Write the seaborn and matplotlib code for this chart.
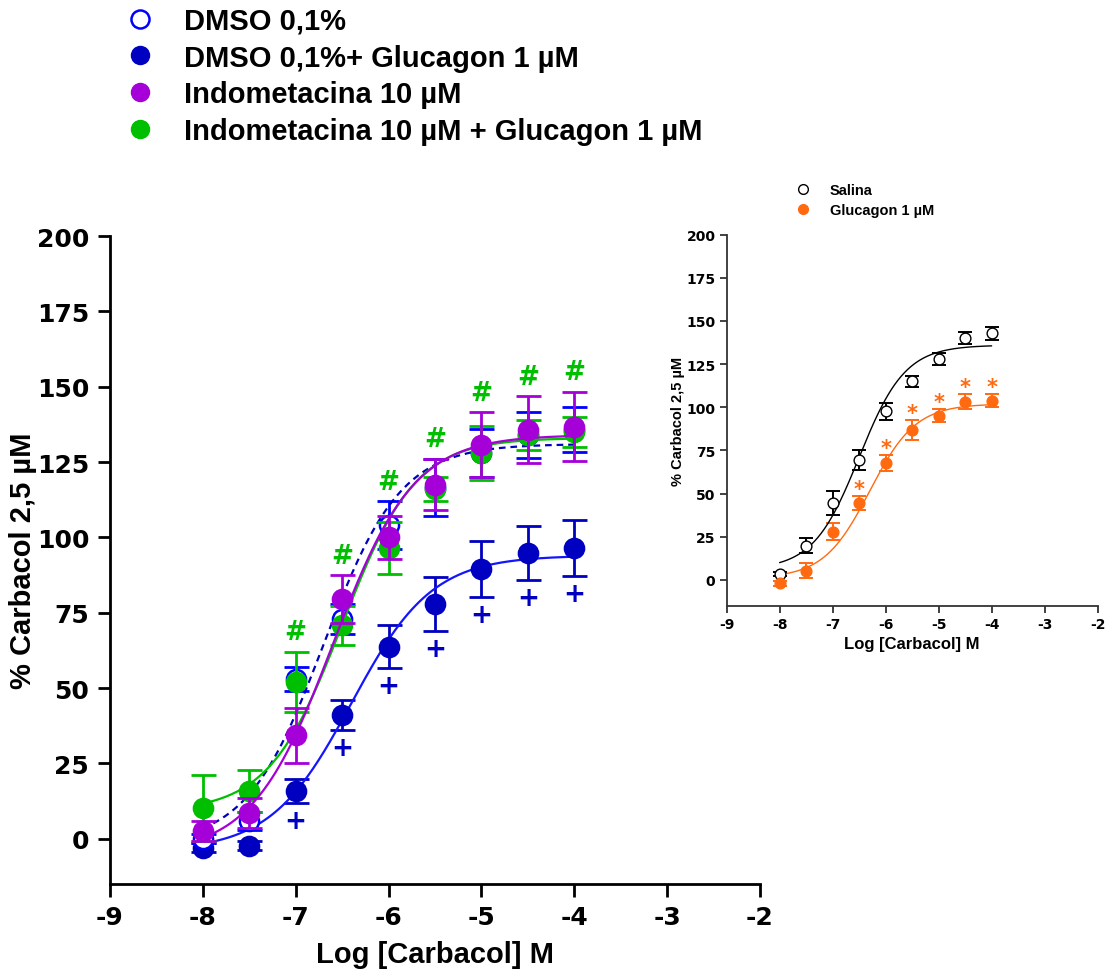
import numpy as np
import pandas as pd
import matplotlib
matplotlib.use("Agg")
import matplotlib.pyplot as plt
import seaborn as sns
from matplotlib.lines import Line2D

# ---- data -------------------------------------------------------------
log_conc = [-8, -7.5, -7, -6.5, -6, -5.5, -5, -4.5, -4]

dmso_mean = [0, 6, 53, 73, 104, 116.5, 128, 134, 135.8]
dmso_sem = [1.5, 3, 4, 5, 8, 9.5, 8, 7.5, 7.6]
dmso_glu_mean = [-2.9, -2.3, 16, 41, 63.8, 78, 89.6, 94.8, 96.5]
dmso_glu_sem = [1.5, 1.5, 4, 5, 7, 9, 9.3, 8.9, 9.3]
indo_mean = [2.5, 8.6, 34.3, 79.5, 100, 117.5, 130.8, 135.8, 136.8]
indo_sem = [3.3, 5, 9, 8, 7, 8.5, 10.7, 11, 11.6]
indo_glu_mean = [10.2, 16, 52, 70.9, 96.5, 116, 128, 134, 135]
indo_glu_sem = [11, 7, 10, 6.5, 8.6, 4, 9, 5, 5]

# significance flags (main panel): "+" under DMSO+Glucagon, "#" above group
plus_flags = [0, 0, 1, 1, 1, 1, 1, 1, 1]
hash_flags = [0, 0, 1, 1, 1, 1, 1, 1, 1]

salina_mean = [3.5, 19.9, 44.6, 69.7, 97.7, 115, 128, 140, 142.8]
salina_sem = [1.2, 4.2, 7, 5.8, 4.8, 3.3, 3.3, 3.4, 4]
glucagon_mean = [-1.9, 5.4, 28, 44.4, 67.6, 86.9, 95.2, 103.3, 103.8]
glucagon_sem = [1.5, 4.3, 4.8, 4, 4.8, 6, 3.8, 4.2, 3.7]
star_flags = [0, 0, 0, 1, 1, 1, 1, 1, 1]

# fitted sigmoid parameters: bottom, top, logEC50, Hill slope
fit_dmso = [-2, 131, -6.7, 1.05]
fit_dmso_glu = [-4, 94, -6.4, 1.0]
fit_indo = [-5, 134, -6.6, 1.0]
fit_indo_glu = [9, 133, -6.5, 1.1]
fit_salina = [6, 136, -6.5, 1.0]
fit_glucagon = [1, 102, -6.3, 1.0]

labels_main = ["DMSO 0,1%", "DMSO 0,1%+ Glucagon 1 \u00b5M",
               "Indometacina 10 \u00b5M",
               "Indometacina 10 \u00b5M + Glucagon 1 \u00b5M"]
labels_inset = ["Salina", "Glucagon 1 \u00b5M"]

# ---- style ------------------------------------------------------------
sns.set_theme(style="white")
plt.rcParams["font.family"] = ["Liberation Sans", "DejaVu Sans"]
plt.rcParams["text.color"] = "black"
plt.rcParams["axes.labelcolor"] = "black"
plt.rcParams["xtick.color"] = "black"
plt.rcParams["ytick.color"] = "black"
TICKFONT = {"family": "DejaVu Sans", "weight": "bold"}

BLUE_OPEN = "#0000ff"
BLUE_DARK = "#0000c0"
BLUE_LINE = "#1414ff"
MAGENTA = "#a600d8"
GREEN = "#00bf00"
ORANGE = "#ff6a10"


def sigmoid(x, p):
    bottom, top, ec50, hill = p
    return bottom + (top - bottom) / (1 + 10 ** ((ec50 - x) * hill))


def fit_frame(p):
    xs = np.linspace(-8, -4, 200)
    return pd.DataFrame({"x": xs, "y": sigmoid(xs, p)})


fig = plt.figure(figsize=(11.11, 9.70), dpi=100)
ax = fig.add_axes([0.099, 0.0876, 0.585, 0.668])
axi = fig.add_axes([0.654, 0.3745, 0.334, 0.3825])
axi.patch.set_alpha(0)

# ---- main panel -------------------------------------------------------
series = [
    (dmso_mean, dmso_sem, fit_dmso, BLUE_OPEN, "white", BLUE_OPEN, (0, (3, 2.2)), BLUE_DARK, 3),
    (dmso_glu_mean, dmso_glu_sem, fit_dmso_glu, BLUE_DARK, BLUE_DARK, BLUE_DARK, "-", BLUE_LINE, 2),
    (indo_glu_mean, indo_glu_sem, fit_indo_glu, GREEN, GREEN, GREEN, "-", GREEN, 4),
    (indo_mean, indo_sem, fit_indo, MAGENTA, MAGENTA, MAGENTA, "-", MAGENTA, 5),
]
for mean, sem, fit, ecol, fcol, errcol, ls, lcol, z in series:
    ax.errorbar(log_conc, mean, yerr=sem, fmt="none", ecolor=errcol,
                elinewidth=2.0, capsize=9, capthick=2.0, zorder=z)
    df = pd.DataFrame({"x": log_conc, "y": mean})
    sns.scatterplot(data=df, x="x", y="y", ax=ax, s=190, color=fcol,
                    edgecolor=ecol, linewidth=1.8, zorder=z + 0.5)
    sns.lineplot(data=fit_frame(fit), x="x", y="y", ax=ax, color=lcol,
                 linewidth=1.6, linestyle=ls, zorder=z + 0.2)

tops = np.max([np.add(m, s) for m, s in
               [(dmso_mean, dmso_sem), (dmso_glu_mean, dmso_glu_sem),
                (indo_mean, indo_sem), (indo_glu_mean, indo_glu_sem)]], axis=0)
for x, t, flag in zip(log_conc, tops, hash_flags):
    if flag:
        ax.text(x, t + 6.5, "#", color=GREEN, fontsize=19, fontweight="bold",
                ha="center", va="center", family="DejaVu Sans", zorder=8)
for x, m, s, flag in zip(log_conc, dmso_glu_mean, dmso_glu_sem, plus_flags):
    if flag:
        ax.text(x, m - s - 6, "+", color=BLUE_DARK, fontsize=19, fontweight="bold",
                ha="center", va="center", family="DejaVu Sans", zorder=8)

ax.set_xlim(-9, -2)
ax.set_ylim(-15, 200)
ax.set_xticks(range(-9, -1))
ax.set_yticks(range(0, 201, 25))
ax.set_xticklabels([str(v) for v in range(-9, -1)], fontdict=TICKFONT, fontsize=18)
ax.set_yticklabels([str(v) for v in range(0, 201, 25)], fontdict=TICKFONT, fontsize=18)
ax.set_xlabel("Log [Carbacol] M", fontsize=21, fontweight="bold", labelpad=8)
ax.set_ylabel("% Carbacol 2,5 \u00b5M", fontsize=21, fontweight="bold")
ax.yaxis.set_label_coords(-0.112, 0.5)
for side in ("top", "right"):
    ax.spines[side].set_visible(False)
for side in ("left", "bottom"):
    ax.spines[side].set_linewidth(2.0)
    ax.spines[side].set_color("black")
ax.tick_params(axis="both", direction="out", length=9, width=2.0, color="black",
               bottom=True, left=True, pad=6)

handles = [
    Line2D([], [], marker="o", linestyle="none", markersize=13,
           markerfacecolor="white", markeredgecolor=BLUE_OPEN, markeredgewidth=1.8),
    Line2D([], [], marker="o", linestyle="none", markersize=13,
           markerfacecolor=BLUE_DARK, markeredgecolor=BLUE_DARK),
    Line2D([], [], marker="o", linestyle="none", markersize=13,
           markerfacecolor=MAGENTA, markeredgecolor=MAGENTA),
    Line2D([], [], marker="o", linestyle="none", markersize=13,
           markerfacecolor=GREEN, markeredgecolor=GREEN),
]
fig.legend(handles, labels_main, loc="upper left", bbox_to_anchor=(0.092, 1.013),
           frameon=False, prop={"family": "Liberation Sans", "weight": "bold", "size": 21},
           handletextpad=0.9, labelspacing=0.3, borderaxespad=0.3, handlelength=1.2)

# ---- inset panel ------------------------------------------------------
inset_series = [
    (salina_mean, salina_sem, fit_salina, "black", "white", "black", "black"),
    (glucagon_mean, glucagon_sem, fit_glucagon, ORANGE, ORANGE, ORANGE, ORANGE),
]
for mean, sem, fit, ecol, fcol, errcol, lcol in inset_series:
    axi.errorbar(log_conc, mean, yerr=sem, fmt="none", ecolor=errcol,
                 elinewidth=1.4, capsize=5, capthick=1.4, zorder=3)
    df = pd.DataFrame({"x": log_conc, "y": mean})
    sns.scatterplot(data=df, x="x", y="y", ax=axi, s=60, color=fcol,
                    edgecolor=ecol, linewidth=1.0, zorder=4)
    sns.lineplot(data=fit_frame(fit), x="x", y="y", ax=axi, color=lcol,
                 linewidth=1.0, zorder=3.5)

for x, m, s, flag in zip(log_conc, glucagon_mean, glucagon_sem, star_flags):
    if flag:
        axi.text(x, m + s + 4, "*", color=ORANGE, fontsize=15, fontweight="bold",
                 ha="center", va="center", family="DejaVu Sans", zorder=6)

axi.set_xlim(-9, -2)
axi.set_ylim(-15, 200)
axi.set_xticks(range(-9, -1))
axi.set_yticks(range(0, 201, 25))
axi.set_xticklabels([str(v) for v in range(-9, -1)], fontdict=TICKFONT, fontsize=10)
axi.set_yticklabels([str(v) for v in range(0, 201, 25)], fontdict=TICKFONT, fontsize=10)
axi.set_xlabel("Log [Carbacol] M", fontsize=12, fontweight="bold", labelpad=4)
axi.set_ylabel("% Carbacol 2,5 \u00b5M", fontsize=10.5, fontweight="bold")
axi.yaxis.set_label_coords(-0.112, 0.5)
for side in ("top", "right"):
    axi.spines[side].set_visible(False)
for side in ("left", "bottom"):
    axi.spines[side].set_linewidth(1.3)
    axi.spines[side].set_color("#333333")
axi.tick_params(axis="both", direction="out", length=5, width=1.3, color="#333333",
                bottom=True, left=True, pad=3)

inset_handles = [
    Line2D([], [], marker="o", linestyle="none", markersize=7,
           markerfacecolor="white", markeredgecolor="black", markeredgewidth=1.0),
    Line2D([], [], marker="o", linestyle="none", markersize=7,
           markerfacecolor=ORANGE, markeredgecolor=ORANGE),
]
fig.legend(inset_handles, labels_inset, loc="upper left", bbox_to_anchor=(0.707, 0.819),
           frameon=False, prop={"family": "Liberation Sans", "weight": "bold", "size": 10.5},
           handletextpad=1.25, labelspacing=0.38, borderaxespad=0.2, handlelength=1.2)

fig.savefig("out.png", dpi=100)
